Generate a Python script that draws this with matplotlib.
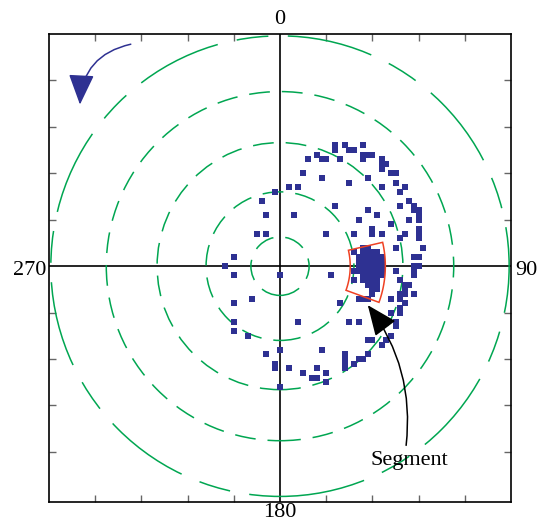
import numpy as np
import matplotlib
matplotlib.use("Agg")
import matplotlib.pyplot as plt
from matplotlib.patches import Circle, FancyArrowPatch, Polygon

plt.rcParams["font.family"] = ["Liberation Serif", "DejaVu Serif"]
plt.rcParams["lines.scale_dashes"] = False

GREEN = "#00A651"
NAVY  = "#2E3192"
RED   = "#EF4123"

# contour rings (same units as the axes)
ringRadii = [0.63, 1.60, 2.66, 3.76, 4.96]

# scattered measurement cells (x, y)
scatterPoints = [
    (1.2, 2.6), (1.2, 2.5), (1.4, 2.6), (1.5, 2.5), (1.6, 2.5), (1.8, 2.6),
    (1.8, 2.4), (1.9, 2.4), (2.0, 2.4), (1.8, 2.3), (1.3, 2.3),
    (0.8, 2.4), (0.9, 2.3), (1.0, 2.3), (0.6, 2.3),
    (2.2, 2.3), (2.2, 2.2), (2.3, 2.2), (2.2, 2.1),
    (2.4, 2.0), (2.5, 2.0), (0.5, 2.0), (0.9, 1.9),
    (1.5, 1.8), (1.9, 1.9), (2.2, 1.7), (2.5, 1.8), (2.7, 1.7), (2.6, 1.6),
    (0.2, 1.7), (0.4, 1.7), (-0.1, 1.6),
    (2.8, 1.4), (2.6, 1.3), (2.9, 1.3), (2.9, 1.2), (3.0, 1.2), (3.0, 1.1), (3.0, 1.0),
    (1.2, 1.3), (0.3, 1.1), (1.9, 1.2), (2.1, 1.1), (1.7, 1.0), (2.8, 1.0), (2.4, 0.9),
    (3.0, 0.8), (3.0, 0.7), (3.0, 0.6), (1.6, 0.7), (2.0, 0.8), (2.0, 0.7), (2.2, 0.7),
    (2.7, 0.7), (1.0, 0.7),
    (2.5, 0.4), (3.1, 0.4), (2.6, 0.6), (2.9, 0.2), (3.0, 0.2),
    (-0.4, 1.4), (-0.3, 1.1), (-0.5, 0.7), (-0.3, 0.7),
    (-1.0, 0.2), (-1.2, 0.0), (-1.0, -0.2), (-0.6, -0.7), (-1.0, -0.8), (-1.0, -1.2),
    (-1.0, -1.4), (-0.7, -1.5),
    (-0.3, -1.9), (-0.1, -2.1), (-0.1, -2.2), (0.0, -0.2), (0.0, -1.8), (0.0, -2.6),
    (1.1, -0.2), (1.3, -0.8), (0.4, -1.2), (0.9, -1.8),
    (1.4, -1.9), (1.4, -2.0), (1.4, -2.1), (1.4, -2.2),
    (0.2, -2.2), (0.5, -2.3), (0.7, -2.4), (0.8, -2.4), (0.8, -2.2), (1.0, -2.3), (1.0, -2.5),
    (1.5, -1.2), (1.7, -1.2),
    (1.6, -2.1), (1.7, -2.0), (1.8, -2.0), (1.9, -1.9),
    (1.9, -1.6), (2.0, -1.6), (2.2, -1.7), (2.3, -1.6),
    (2.4, -1.5), (2.5, -1.3), (2.5, -1.2), (2.6, -1.0), (2.6, -0.9), (2.7, -0.8),
    (2.4, -1.0), (2.3, -1.2), (2.2, -1.2),
    (2.6, -0.6), (2.6, -0.7), (2.7, -0.6), (2.4, -0.7),
    (2.7, -0.4), (2.7, -0.5), (2.8, -0.4), (2.6, -0.3), (2.5, -0.1),
    (2.9, 0.0), (3.0, 0.0), (2.9, -0.1), (2.9, -0.2), (2.9, -0.6),
    (1.7, -0.7), (1.8, -0.7), (1.9, -0.7),
    (1.6, 0.3), (1.6, -0.1), (1.6, -0.3),
]

# dense cells inside the marked segment (x, y)
clusterPoints = [
    (1.8, 0.4), (1.9, 0.4),
    (1.8, 0.3), (1.9, 0.3), (2.0, 0.3), (2.1, 0.3),
    (1.7, 0.2), (1.8, 0.2), (1.9, 0.2), (2.0, 0.2), (2.1, 0.2), (2.2, 0.2),
    (1.7, 0.1), (1.8, 0.1), (1.9, 0.1), (2.0, 0.1), (2.1, 0.1), (2.2, 0.1),
    (1.7, 0.0), (1.8, 0.0), (1.9, 0.0), (2.0, 0.0), (2.1, 0.0), (2.2, 0.0),
    (1.7, -0.1), (1.8, -0.1), (1.9, -0.1), (2.0, -0.1), (2.1, -0.1), (2.2, -0.1),
    (1.8, -0.2), (1.9, -0.2), (2.0, -0.2), (2.1, -0.2), (2.2, -0.2),
    (1.8, -0.3), (1.9, -0.3), (2.0, -0.3), (2.1, -0.3),
    (1.9, -0.4), (2.0, -0.4), (2.1, -0.4),
    (2.0, -0.5), (2.1, -0.5),
    (2.0, -0.6),
]

# marked segment: radius range and compass angle range (0 at top, clockwise)
segmentRadii  = (1.52, 2.28)
segmentAngles = (77, 110)

compassLabels = ["0", "90", "180", "270"]


figure = plt.figure(figsize=(5.39, 5.22), dpi=100)
axes   = figure.add_axes([49/539, 20/522, 462/539, 468/522])
axes.set_xlim(-5.0, 5.0)
axes.set_ylim(-5.08, 5.0)

# rings
for i, radius in enumerate(ringRadii):
    if i == len(ringRadii) - 1:
        dashes = (0, (62, 14, 23, 14))
    else:
        dashes = (0, (15, 8.6))
    axes.add_patch(Circle((0, 0), radius, fill=False, edgecolor=GREEN, linewidth=1.1, linestyle=dashes, zorder=2))

axes.axhline(0, color="black", linewidth=1.2, zorder=1)
axes.axvline(0, color="black", linewidth=1.2, zorder=1)

points = scatterPoints + clusterPoints
xs = [p[0] for p in points]
ys = [p[1] for p in points]
axes.plot(xs, ys, "s", markersize=3.7, markeredgewidth=0, color=NAVY, zorder=3)

# marked segment outline
phi   = np.radians(90 - np.linspace(segmentAngles[0], segmentAngles[1], 30))
inner = np.column_stack([segmentRadii[0]*np.cos(phi), segmentRadii[0]*np.sin(phi)])
outer = np.column_stack([segmentRadii[1]*np.cos(phi[::-1]), segmentRadii[1]*np.sin(phi[::-1])])
axes.add_patch(Polygon(np.vstack([inner, outer]), closed=True, fill=False, edgecolor=RED, linewidth=1.1, zorder=4))

# rotation arrow
axes.add_patch(FancyArrowPatch((-3.23, 4.78), (-4.33, 3.48), connectionstyle="arc3,rad=0.38",
                               arrowstyle="-|>,head_length=1.9,head_width=0.8", mutation_scale=10,
                               linewidth=1.1, color=NAVY, shrinkA=0, shrinkB=0, zorder=5))

# segment annotation
axes.add_patch(FancyArrowPatch((2.73, -3.86), (1.90, -0.84), connectionstyle="arc3,rad=0.2",
                               arrowstyle="-|>,head_length=1.9,head_width=0.8", mutation_scale=10,
                               linewidth=1.1, color="black", shrinkA=0, shrinkB=0, zorder=5))
axes.text(2.79, -4.29, "Segment", fontsize=16, ha="center", va="baseline")

# compass labels
axes.text(0, 5.22, compassLabels[0], fontsize=16, ha="center", va="baseline", clip_on=False)
axes.text(5.1, -0.19, compassLabels[1], fontsize=16, ha="left", va="baseline", clip_on=False)
axes.text(0, -5.41, compassLabels[2], fontsize=16, ha="center", va="baseline", clip_on=False)
axes.text(-5.06, -0.19, compassLabels[3], fontsize=16, ha="right", va="baseline", clip_on=False)

ticks = [-4, -3, -2, -1, 1, 2, 3, 4]
axes.set_xticks(ticks)
axes.set_yticks(ticks)
axes.tick_params(direction="in", length=5, width=1, color="#666666", top=True, right=True,
                 labelbottom=False, labelleft=False)
for spine in axes.spines.values():
    spine.set_linewidth(1.2)

figure.savefig("out.png", dpi=100)
